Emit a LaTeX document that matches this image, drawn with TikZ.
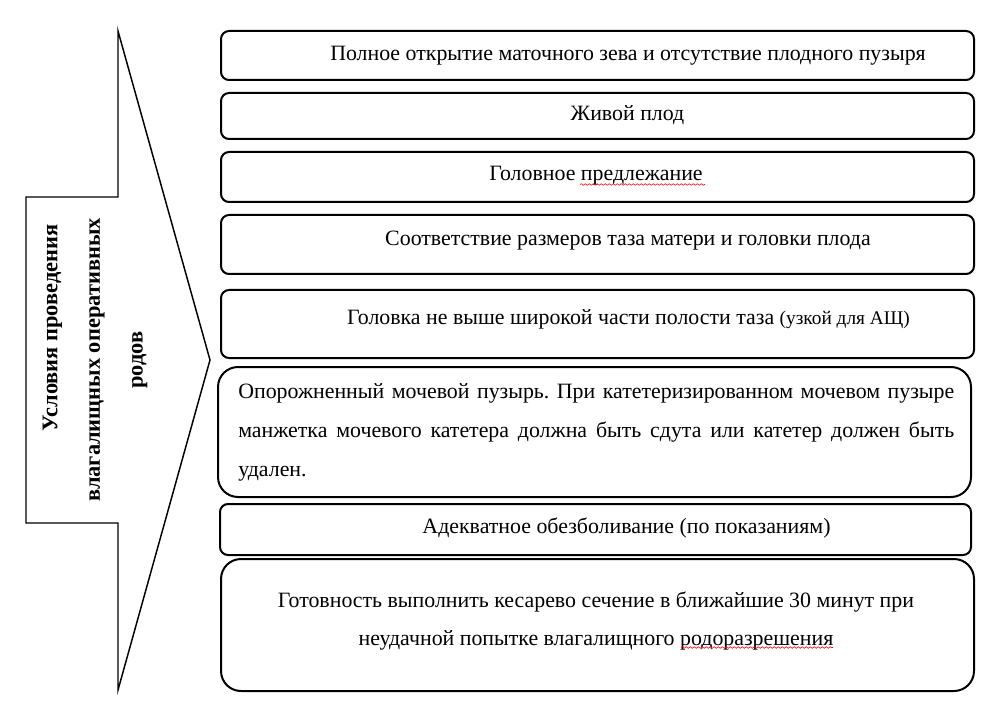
\documentclass[tikz,border=0pt]{standalone}
\usepackage{fontspec}
\setmainfont{Liberation Serif}
\usetikzlibrary{decorations.pathmorphing}
\frenchspacing
\tikzset{
    cond box/.style={draw, line width=1.5pt, anchor=north west, inner sep=0pt}, % рамка одного условия
    cond text/.style={anchor=base, inner sep=0pt, font=\fontsize{16.4}{28.5}\selectfont}, % текст условия
    spell/.style={red, line width=0.45pt, decorate, decoration={snake, segment length=3pt, amplitude=0.6pt}} % волнистое подчеркивание
}

\begin{document}
\begin{tikzpicture}[x=0.75pt, y=-0.75pt]
    \useasboundingbox (0,0) rectangle (1005,723);

    % большая стрелка слева
    \draw[line width=1.1pt] (26,197) -- (118,197) -- (118,31) -- (210,360) -- (118,690) -- (118,523) -- (26,523) -- cycle;
    \node[rotate=90, align=center, font=\fontsize{16.8}{32}\selectfont\bfseries] (head) at (95,360)
        {\hspace*{48pt}Условия проведения\\влагалищных оперативных\\родов};

    % рамки условий
    \foreach \i/\l/\t/\r/\b/\rc in {1/220/30/973/79/6, 2/220/92/973/138/6, 3/220/151/973/201/6, 4/220/214/973/273/6,
                                   5/220/289/973/357/6, 6/217/366/970/496/15, 7/219/503/970/554/6, 8/220/558/973/690/15}
        {\node[cond box, rounded corners=\rc pt, minimum width={(\r-\l)*0.75pt}, minimum height={(\b-\t)*0.75pt}] (b\i) at (\l,\t) {};}

    \node[cond text] (t1) at (628,61) {Полное открытие маточного зева и отсутствие плодного пузыря};
    \node[cond text] (t2) at (627.5,121) {Живой плод};
    \node[cond text] (t3) at (596,181) {Головное предлежание};
    \node[cond text] (t4) at (628,246) {Соответствие размеров таза матери и головки плода};
    \node[cond text] (t5) at (628.5,325) {Головка не выше широкой части полости таза {\fontsize{14.5}{16}\selectfont(узкой для АЩ)}};
    \node[cond text, anchor=base west, text width=537pt, align=justify, font=\fontsize{16.4}{29.5}\selectfont] (t6) at (238,398)
        {Опорожненный мочевой пузырь. При катетеризированном мочевом пузыре\linebreak
         манжетка мочевого катетера должна быть сдута или катетер должен быть\linebreak
         удален.};
    \node[cond text] (t7) at (626.5,533) {Адекватное обезболивание (по показаниям)};
    \node[cond text, align=center] (t8) at (596,645)
        {Готовность выполнить кесарево сечение в ближайшие 30 минут при\\
         неудачной попытке влагалищного родоразрешения};

    % подчеркивания орфографии
    \draw[spell] (580,184.5) -- (705,184.5);
    \draw[spell] (681,647.5) -- (833,647.5);
\end{tikzpicture}
\end{document}
